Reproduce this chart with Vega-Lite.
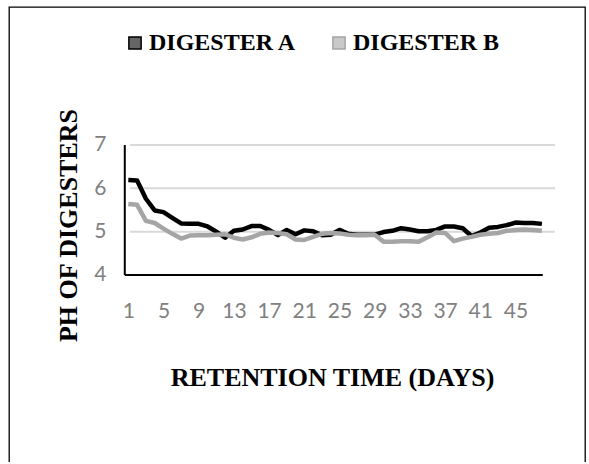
{
  "$schema": "https://vega.github.io/schema/vega-lite/v6.json",
  "width": 576,
  "height": 457,
  "autosize": {"type": "none"},
  "padding": {"left": 9, "top": 7, "right": 4, "bottom": -2},
  "background": "white",
  "config": {
    "view": {"stroke": "#000000", "strokeWidth": 1.3},
    "axisX": {
      "domain": false, "ticks": false, "grid": false, "offset": -189,
      "labelPadding": 25, "labelFont": "Lato", "labelFontSize": 21, "labelColor": "#808080",
      "labelFlush": false, "labelOverlap": false,
      "titleFont": "Liberation Serif", "titleFontSize": 26, "titleFontWeight": "bold", "titleColor": "#000000",
      "titleX": 323, "titleY": 102, "titleAlign": "center", "titleBaseline": "middle"
    },
    "axisY": {
      "domain": false, "ticks": false, "grid": false, "offset": -101,
      "labelPadding": 4, "labelFont": "Lato", "labelFontSize": 21, "labelColor": "#808080",
      "titleFont": "Liberation Serif", "titleFontSize": 26, "titleFontWeight": "bold", "titleColor": "#000000",
      "titleX": -42, "titleY": 218, "titleAngle": -90, "titleAlign": "center", "titleBaseline": "middle"
    }
  },
  "datasets": {
    "ph": [
      {"day": 1, "series": "DIGESTER A", "ph": 6.19}, {"day": 2, "series": "DIGESTER A", "ph": 6.18},
      {"day": 3, "series": "DIGESTER A", "ph": 5.76}, {"day": 4, "series": "DIGESTER A", "ph": 5.49},
      {"day": 5, "series": "DIGESTER A", "ph": 5.45}, {"day": 6, "series": "DIGESTER A", "ph": 5.32},
      {"day": 7, "series": "DIGESTER A", "ph": 5.19}, {"day": 8, "series": "DIGESTER A", "ph": 5.18},
      {"day": 9, "series": "DIGESTER A", "ph": 5.18}, {"day": 10, "series": "DIGESTER A", "ph": 5.12},
      {"day": 11, "series": "DIGESTER A", "ph": 5.0}, {"day": 12, "series": "DIGESTER A", "ph": 4.86},
      {"day": 13, "series": "DIGESTER A", "ph": 5.02}, {"day": 14, "series": "DIGESTER A", "ph": 5.05},
      {"day": 15, "series": "DIGESTER A", "ph": 5.13}, {"day": 16, "series": "DIGESTER A", "ph": 5.13},
      {"day": 17, "series": "DIGESTER A", "ph": 5.04}, {"day": 18, "series": "DIGESTER A", "ph": 4.92},
      {"day": 19, "series": "DIGESTER A", "ph": 5.04}, {"day": 20, "series": "DIGESTER A", "ph": 4.94},
      {"day": 21, "series": "DIGESTER A", "ph": 5.03}, {"day": 22, "series": "DIGESTER A", "ph": 5.01},
      {"day": 23, "series": "DIGESTER A", "ph": 4.92}, {"day": 24, "series": "DIGESTER A", "ph": 4.93},
      {"day": 25, "series": "DIGESTER A", "ph": 5.04}, {"day": 26, "series": "DIGESTER A", "ph": 4.95},
      {"day": 27, "series": "DIGESTER A", "ph": 4.93}, {"day": 28, "series": "DIGESTER A", "ph": 4.93},
      {"day": 29, "series": "DIGESTER A", "ph": 4.93}, {"day": 30, "series": "DIGESTER A", "ph": 4.99},
      {"day": 31, "series": "DIGESTER A", "ph": 5.02}, {"day": 32, "series": "DIGESTER A", "ph": 5.08},
      {"day": 33, "series": "DIGESTER A", "ph": 5.05}, {"day": 34, "series": "DIGESTER A", "ph": 5.01},
      {"day": 35, "series": "DIGESTER A", "ph": 5.01}, {"day": 36, "series": "DIGESTER A", "ph": 5.04},
      {"day": 37, "series": "DIGESTER A", "ph": 5.12}, {"day": 38, "series": "DIGESTER A", "ph": 5.12},
      {"day": 39, "series": "DIGESTER A", "ph": 5.08}, {"day": 40, "series": "DIGESTER A", "ph": 4.9},
      {"day": 41, "series": "DIGESTER A", "ph": 4.98}, {"day": 42, "series": "DIGESTER A", "ph": 5.09},
      {"day": 43, "series": "DIGESTER A", "ph": 5.11}, {"day": 44, "series": "DIGESTER A", "ph": 5.15},
      {"day": 45, "series": "DIGESTER A", "ph": 5.21}, {"day": 46, "series": "DIGESTER A", "ph": 5.2},
      {"day": 47, "series": "DIGESTER A", "ph": 5.2}, {"day": 48, "series": "DIGESTER A", "ph": 5.18},
      {"day": 1, "series": "DIGESTER B", "ph": 5.64}, {"day": 2, "series": "DIGESTER B", "ph": 5.62},
      {"day": 3, "series": "DIGESTER B", "ph": 5.25}, {"day": 4, "series": "DIGESTER B", "ph": 5.2},
      {"day": 5, "series": "DIGESTER B", "ph": 5.07}, {"day": 6, "series": "DIGESTER B", "ph": 4.95},
      {"day": 7, "series": "DIGESTER B", "ph": 4.84}, {"day": 8, "series": "DIGESTER B", "ph": 4.91},
      {"day": 9, "series": "DIGESTER B", "ph": 4.92}, {"day": 10, "series": "DIGESTER B", "ph": 4.92},
      {"day": 11, "series": "DIGESTER B", "ph": 4.93}, {"day": 12, "series": "DIGESTER B", "ph": 4.94},
      {"day": 13, "series": "DIGESTER B", "ph": 4.86}, {"day": 14, "series": "DIGESTER B", "ph": 4.82},
      {"day": 15, "series": "DIGESTER B", "ph": 4.87}, {"day": 16, "series": "DIGESTER B", "ph": 4.95},
      {"day": 17, "series": "DIGESTER B", "ph": 4.98}, {"day": 18, "series": "DIGESTER B", "ph": 4.97},
      {"day": 19, "series": "DIGESTER B", "ph": 4.94}, {"day": 20, "series": "DIGESTER B", "ph": 4.82},
      {"day": 21, "series": "DIGESTER B", "ph": 4.81}, {"day": 22, "series": "DIGESTER B", "ph": 4.88},
      {"day": 23, "series": "DIGESTER B", "ph": 4.95}, {"day": 24, "series": "DIGESTER B", "ph": 4.97},
      {"day": 25, "series": "DIGESTER B", "ph": 4.96}, {"day": 26, "series": "DIGESTER B", "ph": 4.93},
      {"day": 27, "series": "DIGESTER B", "ph": 4.92}, {"day": 28, "series": "DIGESTER B", "ph": 4.92},
      {"day": 29, "series": "DIGESTER B", "ph": 4.93}, {"day": 30, "series": "DIGESTER B", "ph": 4.77},
      {"day": 31, "series": "DIGESTER B", "ph": 4.77}, {"day": 32, "series": "DIGESTER B", "ph": 4.78},
      {"day": 33, "series": "DIGESTER B", "ph": 4.78}, {"day": 34, "series": "DIGESTER B", "ph": 4.77},
      {"day": 35, "series": "DIGESTER B", "ph": 4.87}, {"day": 36, "series": "DIGESTER B", "ph": 4.98},
      {"day": 37, "series": "DIGESTER B", "ph": 4.97}, {"day": 38, "series": "DIGESTER B", "ph": 4.78},
      {"day": 39, "series": "DIGESTER B", "ph": 4.84}, {"day": 40, "series": "DIGESTER B", "ph": 4.88},
      {"day": 41, "series": "DIGESTER B", "ph": 4.93}, {"day": 42, "series": "DIGESTER B", "ph": 4.95},
      {"day": 43, "series": "DIGESTER B", "ph": 4.97}, {"day": 44, "series": "DIGESTER B", "ph": 5.02},
      {"day": 45, "series": "DIGESTER B", "ph": 5.04}, {"day": 46, "series": "DIGESTER B", "ph": 5.05},
      {"day": 47, "series": "DIGESTER B", "ph": 5.04}, {"day": 48, "series": "DIGESTER B", "ph": 5.02}
    ],
    "grid": [{"level": 5}, {"level": 6}, {"level": 7}]
  },
  "layer": [
    {
      "data": {"name": "ph"},
      "transform": [{"filter": "datum.series === 'DIGESTER B'"}],
      "mark": {"type": "line", "strokeWidth": 4.5, "strokeJoin": "round", "opacity": 0},
      "encoding": {
        "x": {"field": "day", "type": "quantitative", "scale": {"domain": [-12.557, 52.898], "nice": false, "zero": false},
          "axis": {"values": [1, 5, 9, 13, 17, 21, 25, 29, 33, 37, 41, 45], "format": "d", "title": "RETENTION TIME (DAYS)"}},
        "y": {"field": "ph", "type": "quantitative", "scale": {"domain": [-0.3616, 10.1846], "nice": false, "zero": false},
          "axis": {"values": [4, 5, 6, 7], "title": "PH OF DIGESTERS"}}
      }
    },
    {
      "data": {"name": "grid"},
      "mark": {"type": "rule", "color": "#d9d9d9", "strokeWidth": 2},
      "encoding": {
        "y": {"field": "level", "type": "quantitative"},
        "x": {"datum": 1.2, "type": "quantitative"},
        "x2": {"datum": 49.5}
      }
    },
    {
      "data": {"values": [{}]},
      "mark": {"type": "rule", "color": "#000000", "strokeWidth": 2},
      "encoding": {
        "x": {"datum": 0.6, "type": "quantitative"},
        "y": {"datum": 4, "type": "quantitative"},
        "y2": {"datum": 7}
      }
    },
    {
      "data": {"values": [{}]},
      "mark": {"type": "rule", "color": "#000000", "strokeWidth": 2},
      "encoding": {
        "x": {"datum": 0.6, "type": "quantitative"},
        "x2": {"datum": 48.1},
        "y": {"datum": 4, "type": "quantitative"}
      }
    },
    {
      "data": {"name": "ph"},
      "mark": {"type": "line", "strokeWidth": 4.5, "strokeJoin": "round"},
      "encoding": {
        "x": {"field": "day", "type": "quantitative"},
        "y": {"field": "ph", "type": "quantitative"},
        "order": {"field": "day"},
        "color": {
          "field": "series", "type": "nominal",
          "sort": ["DIGESTER B", "DIGESTER A"],
          "scale": {"domain": ["DIGESTER B", "DIGESTER A"], "range": ["#a5a5a5", "#000000"]},
          "legend": {
            "title": null, "orient": "none", "legendX": 114, "legendY": 24, "direction": "horizontal",
            "values": ["DIGESTER A", "DIGESTER B"],
            "symbolType": "square", "symbolSize": 150, "symbolStrokeWidth": 1.5,
            "labelFont": "Liberation Serif", "labelFontWeight": "bold", "labelFontSize": 24, "labelColor": "#000000",
            "labelOffset": 2, "columnPadding": 30, "padding": 0, "labelLimit": 0,
            "encode": {"symbols": {"update": {"fill": {"scale": "color", "field": "value"}, "fillOpacity": {"value": 0.6}, "stroke": {"scale": "color", "field": "value"}, "strokeWidth": {"value": 1.5}}}}
          }
        }
      }
    }
  ]
}
